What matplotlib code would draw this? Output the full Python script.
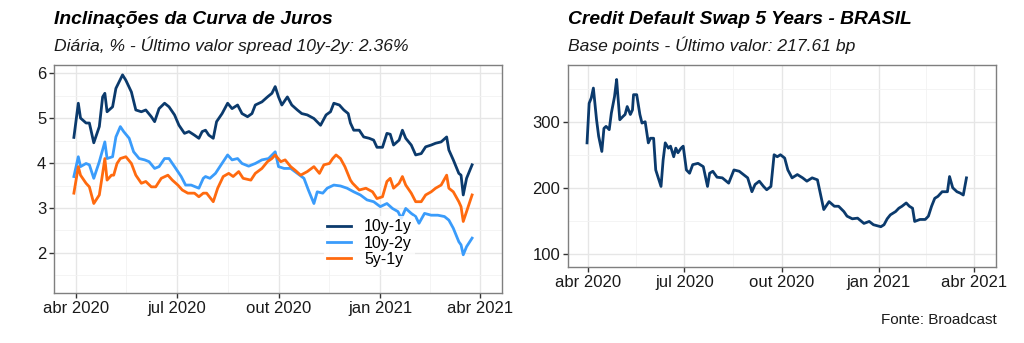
import pandas as pd
import matplotlib
matplotlib.use('Agg')
from matplotlib import pyplot as plt
from matplotlib import dates as mpl_dates

plt.rcParams['font.family'] = ['Liberation Sans', 'DejaVu Sans']

C_10Y1Y = '#0b3a6c'
C_10Y2Y = '#3a9cfb'
C_5Y1Y = '#ff6a0f'
GRID_MAJ = '#e6e6e6'
GRID_MIN = '#f2f2f2'
FRAME = '#7f7f7f'
TXT = '#1a1a1a'

# --- Inclinações da curva (% a.a.) ---
dates_10y1y = ['2020-03-30', '2020-04-03', '2020-04-05', '2020-04-10', '2020-04-13', '2020-04-17',
               '2020-04-22', '2020-04-25', '2020-04-27', '2020-04-29', '2020-05-04', '2020-05-07',
               '2020-05-10', '2020-05-13', '2020-05-16', '2020-05-21', '2020-05-25', '2020-05-30',
               '2020-06-03', '2020-06-08', '2020-06-11', '2020-06-15', '2020-06-20', '2020-06-24',
               '2020-06-29', '2020-07-03', '2020-07-08', '2020-07-12', '2020-07-17', '2020-07-21',
               '2020-07-24', '2020-07-27', '2020-07-30', '2020-08-03', '2020-08-06', '2020-08-11',
               '2020-08-16', '2020-08-20', '2020-08-25', '2020-08-29', '2020-09-03', '2020-09-07',
               '2020-09-10', '2020-09-16', '2020-09-21', '2020-09-25', '2020-09-28', '2020-10-01',
               '2020-10-04', '2020-10-09', '2020-10-13', '2020-10-18', '2020-10-22', '2020-10-27',
               '2020-11-02', '2020-11-08', '2020-11-13', '2020-11-17', '2020-11-20', '2020-11-25',
               '2020-11-29', '2020-12-03', '2020-12-05', '2020-12-08', '2020-12-13', '2020-12-17',
               '2020-12-22', '2020-12-26', '2020-12-29', '2021-01-03', '2021-01-07', '2021-01-10',
               '2021-01-13', '2021-01-18', '2021-01-21', '2021-01-24', '2021-01-29', '2021-02-02',
               '2021-02-07', '2021-02-11', '2021-02-16', '2021-02-20', '2021-02-25', '2021-03-02',
               '2021-03-04', '2021-03-08', '2021-03-13', '2021-03-15', '2021-03-17', '2021-03-20',
               '2021-03-25']
vals_10y1y = [4.57, 5.33, 5.00, 4.89, 4.89, 4.45, 4.81, 5.47, 5.55, 5.14, 5.25, 5.66,
              5.81, 5.96, 5.84, 5.58, 5.18, 5.14, 5.18, 5.03, 4.92, 5.21, 5.33, 5.25,
              5.07, 4.84, 4.66, 4.70, 4.62, 4.55, 4.70, 4.73, 4.62, 4.55, 4.92, 5.10,
              5.33, 5.21, 5.29, 5.10, 5.03, 5.10, 5.29, 5.36, 5.47, 5.55, 5.70, 5.47,
              5.29, 5.47, 5.29, 5.18, 5.10, 5.07, 4.99, 4.84, 5.07, 5.14, 5.33, 5.29,
              5.18, 5.10, 4.89, 4.73, 4.73, 4.58, 4.55, 4.51, 4.35, 4.35, 4.66, 4.64,
              4.40, 4.51, 4.73, 4.55, 4.40, 4.18, 4.21, 4.36, 4.40, 4.44, 4.47, 4.58,
              4.29, 4.07, 3.77, 3.73, 3.29, 3.66, 3.96]

dates_10y2y = ['2020-03-30', '2020-04-03', '2020-04-05', '2020-04-10', '2020-04-13', '2020-04-17',
               '2020-04-22', '2020-04-27', '2020-04-29', '2020-05-04', '2020-05-07', '2020-05-11',
               '2020-05-14', '2020-05-19', '2020-05-23', '2020-05-28', '2020-06-02', '2020-06-06',
               '2020-06-11', '2020-06-15', '2020-06-20', '2020-06-24', '2020-06-29', '2020-07-05',
               '2020-07-09', '2020-07-14', '2020-07-18', '2020-07-21', '2020-07-25', '2020-07-27',
               '2020-07-31', '2020-08-05', '2020-08-09', '2020-08-16', '2020-08-20', '2020-08-25',
               '2020-08-29', '2020-09-04', '2020-09-10', '2020-09-16', '2020-09-22', '2020-09-28',
               '2020-10-01', '2020-10-06', '2020-10-12', '2020-10-18', '2020-10-24', '2020-10-28',
               '2020-11-02', '2020-11-05', '2020-11-10', '2020-11-14', '2020-11-20', '2020-11-26',
               '2020-12-02', '2020-12-08', '2020-12-14', '2020-12-20', '2020-12-26', '2021-01-01',
               '2021-01-07', '2021-01-12', '2021-01-17', '2021-01-20', '2021-01-24', '2021-01-29',
               '2021-02-02', '2021-02-05', '2021-02-10', '2021-02-16', '2021-02-22', '2021-02-28',
               '2021-03-04', '2021-03-08', '2021-03-13', '2021-03-15', '2021-03-17', '2021-03-20',
               '2021-03-25']
vals_10y2y = [3.70, 4.14, 3.92, 3.99, 3.96, 3.66, 4.03, 4.47, 4.10, 4.14, 4.58, 4.81,
              4.70, 4.55, 4.25, 4.10, 4.07, 4.03, 3.88, 3.92, 4.10, 4.10, 3.92, 3.70,
              3.51, 3.51, 3.47, 3.44, 3.66, 3.70, 3.66, 3.77, 3.92, 4.18, 4.07, 4.10,
              3.99, 3.93, 3.99, 4.07, 4.10, 4.25, 3.92, 3.88, 3.88, 3.77, 3.66, 3.40,
              3.10, 3.36, 3.33, 3.44, 3.51, 3.49, 3.44, 3.36, 3.29, 3.18, 3.14, 3.03,
              3.10, 2.99, 2.92, 2.77, 2.99, 2.88, 2.81, 2.66, 2.88, 2.84, 2.84, 2.81,
              2.73, 2.55, 2.25, 2.18, 1.96, 2.14, 2.33]

dates_5y1y = ['2020-03-30', '2020-04-03', '2020-04-05', '2020-04-10', '2020-04-13', '2020-04-17',
              '2020-04-22', '2020-04-25', '2020-04-27', '2020-04-29', '2020-05-03', '2020-05-05',
              '2020-05-08', '2020-05-11', '2020-05-16', '2020-05-21', '2020-05-25', '2020-05-30',
              '2020-06-03', '2020-06-08', '2020-06-12', '2020-06-17', '2020-06-23', '2020-06-27',
              '2020-07-02', '2020-07-06', '2020-07-11', '2020-07-17', '2020-07-21', '2020-07-25',
              '2020-07-28', '2020-08-03', '2020-08-07', '2020-08-12', '2020-08-17', '2020-08-21',
              '2020-08-26', '2020-08-30', '2020-09-06', '2020-09-10', '2020-09-16', '2020-09-21',
              '2020-09-25', '2020-09-28', '2020-10-03', '2020-10-07', '2020-10-12', '2020-10-16',
              '2020-10-21', '2020-10-27', '2020-11-02', '2020-11-07', '2020-11-11', '2020-11-16',
              '2020-11-19', '2020-11-22', '2020-11-26', '2020-11-30', '2020-12-05', '2020-12-07',
              '2020-12-13', '2020-12-19', '2020-12-25', '2020-12-29', '2021-01-03', '2021-01-07',
              '2021-01-10', '2021-01-13', '2021-01-18', '2021-01-21', '2021-01-24', '2021-01-29',
              '2021-02-02', '2021-02-07', '2021-02-11', '2021-02-16', '2021-02-20', '2021-02-25',
              '2021-03-02', '2021-03-04', '2021-03-08', '2021-03-13', '2021-03-15', '2021-03-17',
              '2021-03-20', '2021-03-25']
vals_5y1y = [3.33, 3.92, 3.73, 3.55, 3.47, 3.10, 3.29, 3.77, 4.10, 3.62, 3.73, 3.73,
             3.99, 4.10, 4.14, 3.99, 3.73, 3.55, 3.59, 3.47, 3.47, 3.66, 3.73, 3.62,
             3.51, 3.40, 3.33, 3.33, 3.25, 3.33, 3.33, 3.14, 3.44, 3.70, 3.77, 3.70,
             3.81, 3.66, 3.62, 3.77, 3.88, 4.03, 4.10, 4.18, 4.03, 4.07, 3.92, 3.84,
             3.73, 3.81, 3.92, 3.77, 3.96, 3.99, 4.10, 4.18, 4.10, 3.92, 3.62, 3.55,
             3.40, 3.44, 3.36, 3.21, 3.25, 3.59, 3.66, 3.44, 3.55, 3.70, 3.51, 3.33,
             3.14, 3.14, 3.29, 3.36, 3.44, 3.51, 3.73, 3.44, 3.36, 3.14, 3.03, 2.70,
             2.92, 3.29]

# --- CDS 5 anos Brasil (bp) ---
dates_cds = ['2020-03-31', '2020-04-02', '2020-04-04', '2020-04-06', '2020-04-09', '2020-04-11',
             '2020-04-14', '2020-04-16', '2020-04-18', '2020-04-21', '2020-04-23', '2020-04-26',
             '2020-04-28', '2020-04-29', '2020-05-01', '2020-05-04', '2020-05-06', '2020-05-08',
             '2020-05-11', '2020-05-13', '2020-05-14', '2020-05-17', '2020-05-20', '2020-05-22',
             '2020-05-25', '2020-05-28', '2020-05-30', '2020-06-02', '2020-06-04', '2020-06-06',
             '2020-06-09', '2020-06-11', '2020-06-13', '2020-06-16', '2020-06-18', '2020-06-21',
             '2020-06-23', '2020-06-25', '2020-06-28', '2020-06-30', '2020-07-03', '2020-07-06',
             '2020-07-09', '2020-07-14', '2020-07-19', '2020-07-23', '2020-07-25', '2020-07-28',
             '2020-08-01', '2020-08-06', '2020-08-12', '2020-08-17', '2020-08-22', '2020-08-26',
             '2020-08-30', '2020-09-03', '2020-09-06', '2020-09-10', '2020-09-14', '2020-09-17',
             '2020-09-21', '2020-09-24', '2020-09-27', '2020-09-30', '2020-10-04', '2020-10-07',
             '2020-10-11', '2020-10-16', '2020-10-21', '2020-10-25', '2020-10-30', '2020-11-04',
             '2020-11-08', '2020-11-10', '2020-11-15', '2020-11-20', '2020-11-24', '2020-11-29',
             '2020-12-02', '2020-12-07', '2020-12-12', '2020-12-18', '2020-12-23', '2020-12-27',
             '2021-01-03', '2021-01-06', '2021-01-09', '2021-01-12', '2021-01-17', '2021-01-20',
             '2021-01-23', '2021-01-27', '2021-01-30', '2021-02-02', '2021-02-04', '2021-02-09',
             '2021-02-14', '2021-02-17', '2021-02-20', '2021-02-23', '2021-02-26', '2021-03-02',
             '2021-03-07', '2021-03-09', '2021-03-12', '2021-03-16', '2021-03-19', '2021-03-22',
             '2021-03-25']
vals_cds = [268, 328, 336, 351, 303, 278, 255, 290, 293, 288, 313, 338,
            364, 343, 303, 308, 311, 323, 311, 318, 341, 341, 311, 298,
            300, 268, 275, 275, 227, 217, 202, 242, 268, 260, 263, 247,
            260, 253, 260, 263, 227, 222, 235, 237, 232, 202, 222, 225,
            216, 215, 207, 227, 225, 220, 215, 194, 205, 210, 202, 197,
            202, 250, 247, 250, 245, 227, 215, 220, 215, 210, 215, 212,
            182, 167, 179, 172, 172, 164, 157, 153, 154, 146, 149, 144,
            141, 144, 153, 159, 164, 169, 172, 177, 172, 169, 149, 152,
            152, 157, 172, 184, 187, 194, 194, 217, 200, 194, 192, 189,
            215]

x_ticks = ['2020-04-01', '2020-07-01', '2020-10-01', '2021-01-01', '2021-04-01']
x_tick_labels = ['abr 2020', 'jul 2020', 'out 2020', 'jan 2021', 'abr 2021']
x_minor = ['2020-05-16', '2020-08-16', '2020-11-16', '2021-02-15']

fig = plt.figure(figsize=(10.24, 3.43), dpi=100)
ax1 = fig.add_axes([0.0527, 0.1458, 0.4375, 0.6647])
ax2 = fig.add_axes([0.5547, 0.2216, 0.418, 0.589])


def style_axis(ax, xlim, ylim, yticks, yminor):
    ax.set_xlim(pd.to_datetime(xlim[0]), pd.to_datetime(xlim[1]))
    ax.set_ylim(*ylim)
    ax.set_xticks(pd.to_datetime(x_ticks))
    ax.set_xticklabels(x_tick_labels)
    ax.set_xticks(pd.to_datetime(x_minor), minor=True)
    ax.set_yticks(yticks)
    ax.set_yticks(yminor, minor=True)
    ax.grid(True, which='major', color=GRID_MAJ, linewidth=1.0)
    ax.grid(True, which='minor', color=GRID_MIN, linewidth=0.6)
    ax.set_axisbelow(True)
    for s in ax.spines.values():
        s.set_color(FRAME)
        s.set_linewidth(1.0)
    ax.tick_params(which='major', length=3.5, width=1.0, color='#333333',
                   labelsize=12, labelcolor=TXT, pad=2)
    ax.tick_params(which='minor', length=0)


ax1.plot(pd.to_datetime(dates_10y1y), vals_10y1y, color=C_10Y1Y, lw=2.0, label='10y-1y')
ax1.plot(pd.to_datetime(dates_10y2y), vals_10y2y, color=C_10Y2Y, lw=2.0, label='10y-2y')
ax1.plot(pd.to_datetime(dates_5y1y), vals_5y1y, color=C_5Y1Y, lw=2.0, label='5y-1y')
style_axis(ax1, ('2020-03-12', '2021-04-21'), (1.11, 6.18),
           [2, 3, 4, 5, 6], [1.5, 2.5, 3.5, 4.5, 5.5])
leg = ax1.legend(loc='lower left', bbox_to_anchor=(0.585, 0.065), frameon=True,
                 fontsize=11.5, handlelength=1.5, handletextpad=0.8,
                 labelspacing=0.08, borderpad=0.2)
leg.get_frame().set_edgecolor('none')
leg.get_frame().set_facecolor('white')

ax2.plot(pd.to_datetime(dates_cds), vals_cds, color=C_10Y1Y, lw=2.0)
style_axis(ax2, ('2020-03-13', '2021-04-22'), (80, 386),
           [100, 200, 300], [150, 250, 350])

fig.text(0.0527, 0.942, 'Inclinações da Curva de Juros', fontsize=13.9,
         fontweight='bold', fontstyle='italic', color='black', va='center')
fig.text(0.0527, 0.869, 'Diária, % - Último valor spread 10y-2y: 2.36%', fontsize=12.6,
         fontstyle='italic', color=TXT, va='center')
fig.text(0.5547, 0.942, 'Credit Default Swap 5 Years - BRASIL', fontsize=13.9,
         fontweight='bold', fontstyle='italic', color='black', va='center')
fig.text(0.5547, 0.869, 'Base points - Último valor: 217.61 bp', fontsize=12.6,
         fontstyle='italic', color=TXT, va='center')
fig.text(0.973, 0.067, 'Fonte: Broadcast', fontsize=11, color=TXT, ha='right', va='center')

fig.savefig('out.png', dpi=100, facecolor='white')
